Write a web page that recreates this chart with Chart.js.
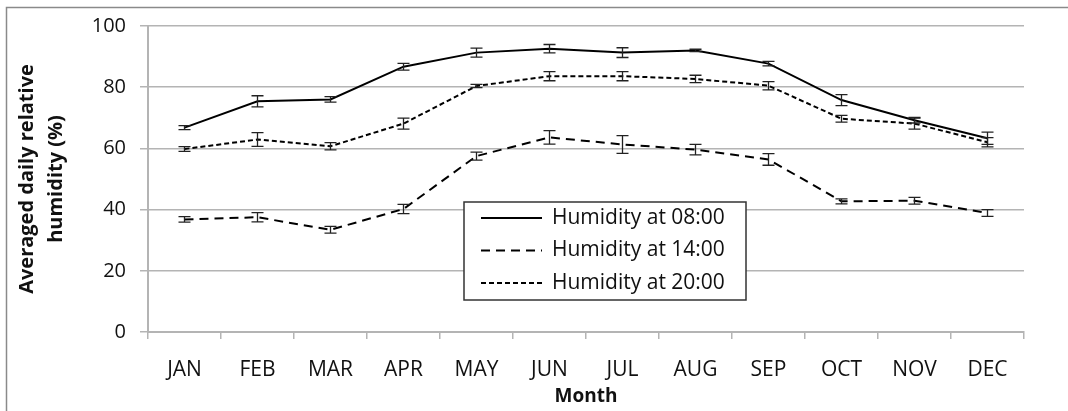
<!DOCTYPE html>
<html>
<head>
<meta charset="utf-8">
<title>Averaged daily relative humidity</title>
<script src="https://cdn.jsdelivr.net/npm/chart.js@4.4.1/dist/chart.umd.min.js"></script>
<style>
  html, body { margin: 0; padding: 0; background: #fff; }
  #wrap { position: relative; width: 1068px; height: 411px; }
</style>
</head>
<body>
<div id="wrap"><canvas id="humChart" width="1068" height="411"></canvas></div>
<script>
// monthly means and their error bars
var months = ['JAN', 'FEB', 'MAR', 'APR', 'MAY', 'JUN', 'JUL', 'AUG', 'SEP', 'OCT', 'NOV', 'DEC'];
var hum08 = [66.8, 75.4, 76.0, 86.7, 91.3, 92.6, 91.3, 92.0, 87.7, 75.8, 69.2, 63.3];
var err08 = [0.65, 1.8, 0.9, 1.1, 1.45, 1.35, 1.6, 0.4, 0.75, 1.8, 0.9, 2.0];
var hum14 = [36.8, 37.5, 33.4, 40.2, 57.5, 63.6, 61.3, 59.6, 56.4, 42.7, 42.9, 38.9];
var err14 = [0.9, 1.5, 1.1, 1.5, 1.3, 2.2, 2.9, 1.7, 1.9, 0.8, 1.1, 1.1];
var hum20 = [59.8, 62.9, 60.7, 68.1, 80.4, 83.6, 83.6, 82.7, 80.5, 69.7, 68.1, 62.0];
var err20 = [0.8, 2.25, 1.2, 1.8, 0.55, 1.5, 1.5, 1.2, 1.35, 1.1, 1.8, 1.5];
var yTicks = [0, 20, 40, 60, 80, 100];

var dash14 = [9, 6];
var dash20 = [5, 3];
var gridGray = '#b4b4b4';

Chart.defaults.font.family = "'Open Sans', sans-serif";
Chart.defaults.color = '#111';

// outer frame around the figure
var framePlugin = {
  id: 'frame',
  beforeDraw: function(chart) {
    var ctx = chart.ctx;
    ctx.save();
    ctx.fillStyle = '#fff';
    ctx.fillRect(0, 0, chart.width, chart.height);
    ctx.strokeStyle = '#8a8a8a';
    ctx.lineWidth = 1.5;
    ctx.strokeRect(6.5, 7.5, 1200, 600);
    ctx.restore();
  }
};

// vertical error bars with caps, using the y scale for positions
var errorBarPlugin = {
  id: 'errorBars',
  afterDatasetsDraw: function(chart) {
    var ctx = chart.ctx;
    var yScale = chart.scales.y;
    ctx.save();
    ctx.strokeStyle = '#222';
    ctx.lineWidth = 1.3;
    ctx.setLineDash([]);
    chart.data.datasets.forEach(function(ds, i) {
      var meta = chart.getDatasetMeta(i);
      meta.data.forEach(function(pt, j) {
        var v = ds.data[j], e = ds.errors[j];
        var x = pt.x;
        var yTop = yScale.getPixelForValue(v + e);
        var yBot = yScale.getPixelForValue(v - e);
        ctx.beginPath();
        ctx.moveTo(x, yTop); ctx.lineTo(x, yBot);
        ctx.moveTo(x - 6, yTop); ctx.lineTo(x + 6, yTop);
        ctx.moveTo(x - 6, yBot); ctx.lineTo(x + 6, yBot);
        ctx.stroke();
      });
    });
    ctx.restore();
  }
};

// boxed legend sitting inside the plot
var boxLegendPlugin = {
  id: 'boxLegend',
  afterDraw: function(chart) {
    var ctx = chart.ctx;
    var bx = 464, by = 202, bw = 282, bh = 98;
    ctx.save();
    ctx.fillStyle = '#fff';
    ctx.fillRect(bx, by, bw, bh);
    ctx.strokeStyle = '#333';
    ctx.lineWidth = 1.5;
    ctx.strokeRect(bx, by, bw, bh);
    ctx.font = "21px 'Open Sans', sans-serif";
    ctx.fillStyle = '#111';
    ctx.textBaseline = 'middle';
    chart.data.datasets.forEach(function(ds, i) {
      var y = by + 16 + i * 32.5;
      ctx.strokeStyle = '#000';
      ctx.lineWidth = 2;
      ctx.setLineDash(ds.borderDash || []);
      ctx.beginPath();
      ctx.moveTo(bx + 17, y);
      ctx.lineTo(bx + 78, y);
      ctx.stroke();
      ctx.setLineDash([]);
      ctx.fillText(ds.label, bx + 88, y);
    });
    ctx.restore();
  }
};

var ctx = document.getElementById('humChart');

var humChart = new Chart(ctx, {
  type: 'line',
  data: {
    labels: months,
    datasets: [
      { label: 'Humidity at 08:00', data: hum08, errors: err08, borderColor: '#000', borderWidth: 2 },
      { label: 'Humidity at 14:00', data: hum14, errors: err14, borderColor: '#000', borderWidth: 2, borderDash: dash14 },
      { label: 'Humidity at 20:00', data: hum20, errors: err20, borderColor: '#000', borderWidth: 2, borderDash: dash20 }
    ]
  },
  options: {
    responsive: false,
    animation: false,
    layout: { padding: { top: 22, right: 44, left: 0, bottom: 0 } },
    elements: {
      point: { radius: 0, hoverRadius: 0 },
      line: { tension: 0, fill: false }
    },
    plugins: {
      legend: { display: false },
      tooltip: { enabled: false }
    },
    scales: {
      x: {
        offset: true,
        grid: {
          offset: true,
          drawOnChartArea: false,
          drawTicks: true,
          tickLength: 7,
          color: gridGray,
          lineWidth: 1.5
        },
        border: { color: gridGray, width: 2 },
        ticks: { font: { size: 21 }, padding: 18, maxRotation: 0 },
        title: {
          display: true,
          text: 'Month',
          font: { size: 19, weight: 'bold' },
          padding: { top: 0, bottom: 3 }
        },
        afterFit: function(scale) { scale.height = 79; }
      },
      y: {
        min: 0,
        max: 100,
        afterBuildTicks: function(scale) {
          scale.ticks = yTicks.map(function(v) { return { value: v }; });
        },
        grid: { color: gridGray, lineWidth: 1.5, tickLength: 8 },
        border: { color: gridGray, width: 2 },
        ticks: { font: { size: 20 }, padding: 14 },
        title: {
          display: true,
          text: ['Averaged daily relative', 'humidity (%)'],
          font: { size: 20, weight: 'bold', lineHeight: 1.45 },
          padding: { top: 13, bottom: 0 }
        },
        afterFit: function(scale) { scale.width = 148; }
      }
    }
  },
  plugins: [framePlugin, errorBarPlugin, boxLegendPlugin]
});
</script>
</body>
</html>
